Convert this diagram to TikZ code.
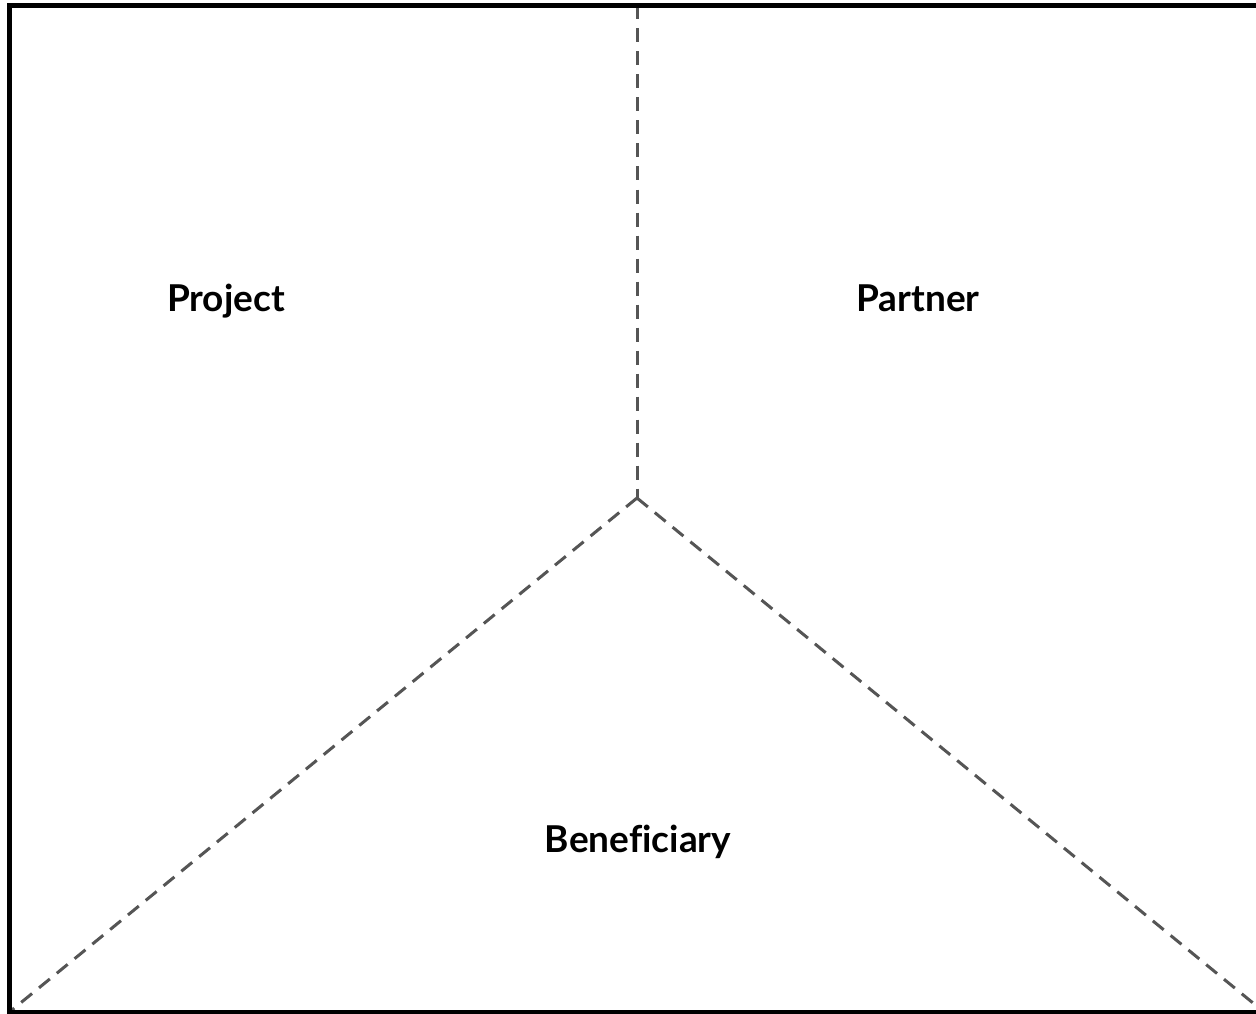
\documentclass[tikz,border=0pt]{standalone}
\usepackage{fontspec}
\setmainfont{Lato}[Ligatures=NoCommon]
\begin{document}
\begin{tikzpicture}[x=1pt,y=-1pt,
  frame/.style={line width=5pt,black},
  divider/.style={line width=3pt,color=divgray,dash pattern=on 14pt off 9pt},
  label/.style={font=\fontsize{37}{44}\selectfont\bfseries,text=black,inner sep=0pt,anchor=base}]
\definecolor{divgray}{HTML}{555555}
\useasboundingbox (0,0) rectangle (1256,1014);
\clip (0,0) rectangle (1256,1014);
\coordinate (top) at (637,5.5);
\coordinate (hub) at (637,498);
\coordinate (bl) at (9.5,1012);
\coordinate (br) at (1264,1012);
\draw[divider] (top) -- (hub);
\draw[divider] (hub) -- (bl);
\draw[divider] (hub) -- (br);
\draw[frame] (1270,5.5) -- (9.5,5.5) -- (9.5,1012.5) -- (1270,1012.5);
\node[label] (project) at (226,311) {Project};
\node[label] (partner) at (918,311) {Partner};
\node[label] (beneficiary) at (638,852) {Beneficiary};
\end{tikzpicture}
\end{document}
